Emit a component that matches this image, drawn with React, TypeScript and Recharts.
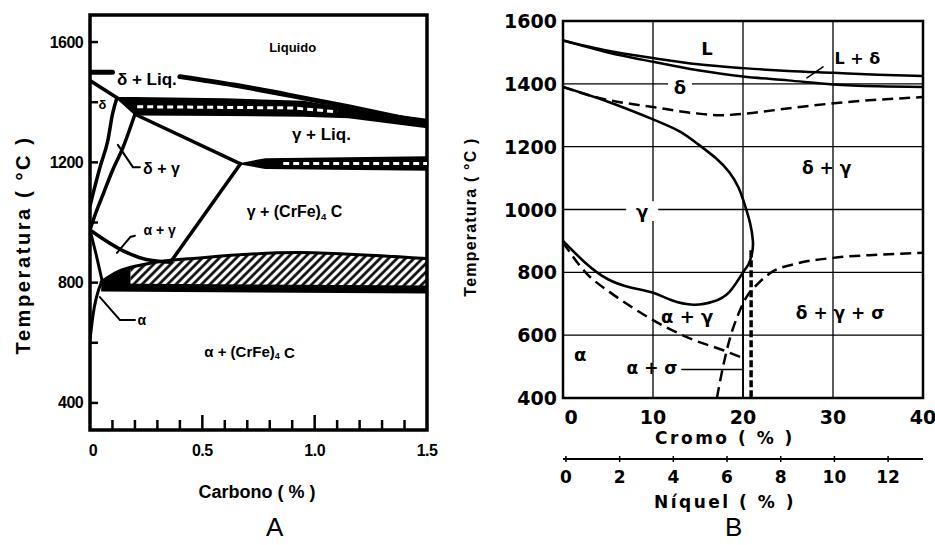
import React from 'react'
import { ComposedChart, Line, Area, XAxis, YAxis, CartesianGrid, ReferenceArea, ReferenceDot } from 'recharts'

// ---------- A: Fe-Cr-C, temperatura x carbono ----------
const carbonTicks = [0, 0.1, 0.2, 0.3, 0.4, 0.5, 0.6, 0.7, 0.8, 0.9, 1.0, 1.1, 1.2, 1.3, 1.4, 1.5]
const carbonLabels = [0, 0.5, 1.0, 1.5]
const tempTicksA = [400, 600, 800, 1000, 1200, 1400, 1600]
const tempLabelsA = [400, 800, 1200, 1600]

const liquidusA1 = [{ x: 0, y: 1500 }, { x: 0.1, y: 1500 }]
const liquidusA2 = [{ x: 0.4, y: 1485 }, { x: 0.64, y: 1457 }, { x: 0.93, y: 1417 }, { x: 1.15, y: 1385 }, { x: 1.5, y: 1330 }]
const deltaA = [{ x: 0, y: 1472 }, { x: 0.12, y: 1415 }]
const band1A = [
  { x: 0.12, r: [1410, 1417] }, { x: 0.2, r: [1356, 1417] }, { x: 0.6, r: [1354, 1413] },
  { x: 0.95, r: [1352, 1405] }, { x: 1.15, r: [1347, 1380] }, { x: 1.5, r: [1313, 1345] },
]
const band1DashA = [{ x: 0.21, y: 1385 }, { x: 0.9, y: 1381 }, { x: 1.1, y: 1368 }]
const solidusA = [{ x: 0.2, y: 1360 }, { x: 0.67, y: 1195 }]
const band2A = [{ x: 0.67, r: [1193, 1198] }, { x: 0.78, r: [1178, 1214] }, { x: 1.5, r: [1172, 1220] }]
const band2DashA = [{ x: 0.86, y: 1196 }, { x: 1.5, y: 1196 }]
const acmA = [{ x: 0.36, y: 870 }, { x: 0.67, y: 1195 }]
const dgLeftA = [{ x: 0, y: 1055 }, { x: 0.015, y: 1100 }, { x: 0.045, y: 1185 }, { x: 0.08, y: 1275 }, { x: 0.1, y: 1360 }, { x: 0.12, y: 1415 }]
const dgRightA = [{ x: 0, y: 975 }, { x: 0.02, y: 1020 }, { x: 0.06, y: 1097 }, { x: 0.1, y: 1173 }, { x: 0.147, y: 1250 }, { x: 0.2, y: 1360 }]
const agTopA = [{ x: 0, y: 975 }, { x: 0.15, y: 905 }, { x: 0.25, y: 877 }, { x: 0.36, y: 868 }]
const agLowA = [{ x: 0, y: 975 }, { x: 0.03, y: 885 }, { x: 0.055, y: 803 }]
const alphaSolvusA = [{ x: 0, y: 610 }, { x: 0.013, y: 690 }, { x: 0.05, y: 800 }]
const hatchA = [
  { x: 0.18, r: [776, 850] }, { x: 0.25, r: [775, 862] }, { x: 0.36, r: [775, 869] }, { x: 0.5, r: [775, 883] },
  { x: 0.7, r: [775, 895] }, { x: 0.93, r: [775, 900] }, { x: 1.2, r: [775, 893] }, { x: 1.5, r: [775, 880] },
]
const wedgeA = [{ x: 0.05, r: [797, 803] }, { x: 0.12, r: [781, 835] }, { x: 0.18, r: [776, 851] }]
const hatchTopA = [{ x: 0.05, y: 803 }, { x: 0.12, y: 835 }, { x: 0.25, y: 862 }, { x: 0.5, y: 883 }, { x: 0.93, y: 900 }, { x: 1.2, y: 893 }, { x: 1.5, y: 880 }]
const hatchBaseA = [{ x: 0.05, y: 784 }, { x: 1.5, y: 777 }]
const leaderDgA = [{ x: 0.124, y: 1258 }, { x: 0.191, y: 1184 }, { x: 0.222, y: 1184 }]
const leaderAgA = [{ x: 0.12, y: 899 }, { x: 0.18, y: 952 }, { x: 0.2, y: 956 }]
const leaderAlphaA = [{ x: 0.044, y: 752 }, { x: 0.133, y: 676 }, { x: 0.2, y: 676 }]

// ---------- B: Fe-Cr-Ni, temperatura x cromo ----------
const cromoTicks = [0, 10, 20, 30, 40]
const niquelTicks = [0, 2, 4, 6, 8, 10, 12]
const tempTicksB = [400, 600, 800, 1000, 1200, 1400, 1600]

const liquidusB = [{ x: 0, y: 1538 }, { x: 5, y: 1505 }, { x: 10, y: 1482 }, { x: 15, y: 1462 }, { x: 20, y: 1450 }, { x: 25, y: 1441 }, { x: 30, y: 1435 }, { x: 35, y: 1429 }, { x: 40, y: 1425 }]
const solidusB = [{ x: 0, y: 1538 }, { x: 5, y: 1500 }, { x: 10, y: 1470 }, { x: 15, y: 1443 }, { x: 20, y: 1423 }, { x: 25, y: 1411 }, { x: 30, y: 1398 }, { x: 35, y: 1392 }, { x: 40, y: 1390 }]
const deltaDashB = [{ x: 0, y: 1390 }, { x: 4, y: 1355 }, { x: 10, y: 1326 }, { x: 14.5, y: 1307 }, { x: 17.4, y: 1300 }, { x: 20.2, y: 1305 }, { x: 25.6, y: 1324 }, { x: 30.4, y: 1339 }, { x: 40, y: 1358 }]
const gammaLoopB = [
  { x: 0, y: 1390 }, { x: 5, y: 1343 }, { x: 10, y: 1287 }, { x: 13, y: 1248 }, { x: 15, y: 1208 }, { x: 17, y: 1163 },
  { x: 18.5, y: 1118 }, { x: 19.5, y: 1070 }, { x: 20.2, y: 1015 }, { x: 20.8, y: 955 }, { x: 21.1, y: 900 }, { x: 21, y: 860 },
  { x: 20.6, y: 825 }, { x: 20, y: 800 }, { x: 18.5, y: 738 }, { x: 16.7, y: 707 }, { x: 14.5, y: 697 }, { x: 12, y: 712 },
  { x: 10, y: 735 }, { x: 7.5, y: 752 }, { x: 5, y: 778 }, { x: 2.5, y: 830 }, { x: 0, y: 900 },
]
const alphaDashB = [{ x: 0, y: 895 }, { x: 2.6, y: 797 }, { x: 5.2, y: 737 }, { x: 7.5, y: 692 }, { x: 10, y: 648 }, { x: 14.5, y: 585 }, { x: 17.8, y: 552 }, { x: 20, y: 527 }]
const sigmaDashB = [{ x: 17.1, y: 400 }, { x: 17.8, y: 502 }, { x: 18.5, y: 585 }, { x: 19.5, y: 668 }, { x: 20.4, y: 722 }, { x: 21.7, y: 765 }, { x: 23, y: 797 }, { x: 26, y: 828 }, { x: 30, y: 846 }, { x: 35, y: 856 }, { x: 40, y: 862 }]
const vertSolidB = [{ x: 20, y: 800 }, { x: 20, y: 400 }]
const vertDashB = [{ x: 20.9, y: 870 }, { x: 20.9, y: 400 }]
const leaderLdB = [{ x: 27.1, y: 1419 }, { x: 28.9, y: 1454 }]
const leaderAsB = [{ x: 13.2, y: 491 }, { x: 20, y: 491 }]

const FONT_A = "'Liberation Sans', Arial, sans-serif"
const FONT_B = "'DejaVu Sans', sans-serif"

const seg = (key: string, data: any[], w: number, extra: any = {}) => (
  <Line
    key={key}
    data={data}
    dataKey="y"
    type={extra.type ?? 'monotone'}
    stroke={extra.stroke ?? '#000'}
    strokeWidth={w}
    strokeDasharray={extra.dash}
    strokeLinecap={extra.cap ?? 'round'}
    dot={false}
    activeDot={false}
    legendType="none"
    isAnimationActive={false}
  />
)

const band = (key: string, data: any[], fill: string) => (
  <Area key={key} data={data} dataKey="r" type="linear" fill={fill} fillOpacity={1} stroke="none" dot={false} activeDot={false} legendType="none" isAnimationActive={false} />
)

const tag = (key: string, x: number, y: number, body: React.ReactNode, size: number, font: string, mask = 0) => (
  <ReferenceDot
    key={key}
    x={x}
    y={y}
    r={0}
    ifOverflow="visible"
    shape={(p: any) => (
      <g>
        {mask > 0 && <rect x={p.cx - mask / 2} y={p.cy - size * 0.55} width={mask} height={size * 1.1} fill="#fff" />}
        <text x={p.cx} y={p.cy} textAnchor="middle" dominantBaseline="central" fontSize={size} fontWeight="bold" fontFamily={font} fill="#000">
          {body}
        </text>
      </g>
    )}
  />
)

const carbide = (size: number) => (
  <>
    {'+ (CrFe)'}
    <tspan fontSize={size * 0.6} dy={size * 0.3}>4</tspan>
    <tspan dy={-size * 0.3}>{' C'}</tspan>
  </>
)

const TickLeftA = (p: any) => {
  const v = p.payload.value
  return (
    <g>
      <line x1={p.x} y1={p.y} x2={p.x + 8} y2={p.y} stroke="#000" strokeWidth={2.5} />
      {tempLabelsA.includes(v) && (
        <text x={p.x - 7} y={p.y} textAnchor="end" dominantBaseline="central" fontSize={16} fontWeight="bold" fontFamily={FONT_A} letterSpacing={-0.6}>{v}</text>
      )}
    </g>
  )
}

const TickBottomA = (p: any) => {
  const v = p.payload.value
  const major = carbonLabels.some(c => Math.abs(c - v) < 1e-6)
  const len = Math.abs(v - 0.5) < 1e-6 || Math.abs(v - 1) < 1e-6 ? 15 : 10
  return (
    <g>
      {v > 0.01 && v < 1.49 && <line x1={p.x} y1={p.y} x2={p.x} y2={p.y - len} stroke="#000" strokeWidth={2.5} />}
      {major && (
        <text x={p.x + (v === 0 ? 3 : 0)} y={p.y + 20} textAnchor="middle" dominantBaseline="central" fontSize={16} fontWeight="bold" fontFamily={FONT_A} letterSpacing={-0.5}>
          {v === 0 ? '0' : v.toFixed(1)}
        </text>
      )}
    </g>
  )
}

function ChartA() {
  return (
    <ComposedChart width={440} height={545} margin={{ top: 15, right: 13, bottom: 0, left: 0 }}>
      <defs>
        <pattern id="hatchA" patternUnits="userSpaceOnUse" width={6} height={6} patternTransform="rotate(45)">
          <rect width={6} height={6} fill="#fff" />
          <line x1={1.5} y1={0} x2={1.5} y2={6} stroke="#000" strokeWidth={2.6} />
        </pattern>
      </defs>
      <XAxis
        dataKey="x" type="number" domain={[0, 1.5]} ticks={carbonTicks} interval={0} allowDataOverflow height={115}
        axisLine={false} tickLine={false} tickSize={0} tickMargin={0} tick={<TickBottomA />}
        label={() => (
          <text x={257} y={492} textAnchor="middle" dominantBaseline="central" fontSize={18} fontWeight="bold" fontFamily={FONT_A}>Carbono ( % )</text>
        )}
      />
      <YAxis
        type="number" domain={[310, 1690]} ticks={tempTicksA} interval={0} allowDataOverflow width={90}
        axisLine={false} tickLine={false} tickSize={0} tickMargin={0} tick={<TickLeftA />}
        label={() => (
          <text x={23} y={245} transform="rotate(-90, 23, 245)" textAnchor="middle" dominantBaseline="central" fontSize={20} fontWeight="bold" fontFamily={FONT_A} letterSpacing={2.6}>Temperatura ( °C )</text>
        )}
      />
      {band('b1', band1A, '#000')}
      {band('b2', band2A, '#000')}
      {band('hatch', hatchA, 'url(#hatchA)')}
      {band('wedge', wedgeA, '#000')}
      {seg('b1d', band1DashA, 3, { stroke: '#fff', dash: '6 4', type: 'linear', cap: 'butt' })}
      {seg('b2d', band2DashA, 3, { stroke: '#fff', dash: '6 4', type: 'linear', cap: 'butt' })}
      {seg('liq1', liquidusA1, 5, { type: 'linear' })}
      {seg('liq2', liquidusA2, 5)}
      {seg('delta', deltaA, 3.5, { type: 'linear' })}
      {seg('sol', solidusA, 3.5, { type: 'linear' })}
      {seg('acm', acmA, 3.5, { type: 'linear' })}
      {seg('dgl', dgLeftA, 3.5)}
      {seg('dgr', dgRightA, 3.5)}
      {seg('agt', agTopA, 3.5)}
      {seg('agl', agLowA, 3)}
      {seg('asol', alphaSolvusA, 3)}
      {seg('htop', hatchTopA, 3)}
      {seg('hbase', hatchBaseA, 8, { type: 'linear', cap: 'butt' })}
      {seg('ldg', leaderDgA, 2, { type: 'linear' })}
      {seg('lag', leaderAgA, 2, { type: 'linear' })}
      {seg('lal', leaderAlphaA, 2, { type: 'linear' })}
      <ReferenceArea x1={0} x2={1.5} y1={310} y2={1690} fill="none" stroke="#000" strokeWidth={3.5} ifOverflow="visible" />
      {tag('t1', 0.902, 1583, 'Liquido', 13, FONT_A)}
      {tag('t2', 0.253, 1474, 'δ + Liq.', 17, FONT_A)}
      {tag('t3', 0.055, 1394, 'δ', 13, FONT_A)}
      {tag('t4', 1.03, 1291, 'γ + Liq.', 17, FONT_A)}
      {tag('t5', 0.318, 1181, 'δ + γ', 16, FONT_A)}
      {tag('t6', 0.91, 1038, <>{'γ '}{carbide(16)}</>, 16, FONT_A)}
      {tag('t7', 0.31, 975, 'α + γ', 14, FONT_A)}
      {tag('t8', 0.231, 676, 'α', 14, FONT_A)}
      {tag('t9', 0.71, 570, <>{'α '}{carbide(15)}</>, 15, FONT_A)}
    </ComposedChart>
  )
}

const TickLeftB = (p: any) => (
  <text x={p.x - 6} y={p.y} textAnchor="end" dominantBaseline="central" fontSize={19} fontWeight="bold" fontFamily={FONT_B}>{p.payload.value}</text>
)

const TickCromo = (p: any) => (
  <text x={p.x + (p.payload.value === 0 ? 8 : 0)} y={p.y + 19} textAnchor="middle" dominantBaseline="central" fontSize={19} fontWeight="bold" fontFamily={FONT_B}>{p.payload.value}</text>
)

const TickNiquel = (p: any) => (
  <g>
    <line x1={p.x} y1={p.y - 3} x2={p.x} y2={p.y + 3} stroke="#000" strokeWidth={1.5} />
    <text x={p.x} y={p.y + 18} textAnchor="middle" dominantBaseline="central" fontSize={17} fontWeight="bold" fontFamily={FONT_B}>{p.payload.value}</text>
  </g>
)

function ChartB() {
  return (
    <ComposedChart width={475} height={545} margin={{ top: 21, right: 12, bottom: 0, left: 0 }}>
      <CartesianGrid stroke="#000" strokeWidth={1.3} />
      <XAxis
        dataKey="x" type="number" domain={[0, 40]} ticks={cromoTicks} interval={0} allowDataOverflow height={61}
        axisLine={false} tickLine={false} tickSize={0} tickMargin={0} tick={<TickCromo />}
        label={() => (
          <text x={265} y={438} textAnchor="middle" dominantBaseline="central" fontSize={17} fontWeight="bold" fontFamily={FONT_B} letterSpacing={2.5}>Cromo ( % )</text>
        )}
      />
      <XAxis
        xAxisId="ni" dataKey="x" type="number" domain={[-0.11, 13.3]} ticks={niquelTicks} interval={0} allowDataOverflow height={86}
        axisLine={{ stroke: '#000', strokeWidth: 2 }} tickLine={false} tickSize={0} tickMargin={0} tick={<TickNiquel />}
        label={() => (
          <text x={265} y={502} textAnchor="middle" dominantBaseline="central" fontSize={17} fontWeight="bold" fontFamily={FONT_B} letterSpacing={2.5}>Níquel ( % )</text>
        )}
      />
      <YAxis
        type="number" domain={[400, 1600]} ticks={tempTicksB} interval={0} allowDataOverflow width={103}
        axisLine={false} tickLine={false} tickSize={0} tickMargin={0} tick={<TickLeftB />}
        label={() => (
          <text x={10} y={217} transform="rotate(-90, 10, 217)" textAnchor="middle" dominantBaseline="central" fontSize={16} fontWeight="bold" fontFamily={FONT_A} letterSpacing={1.2}>Temperatura ( °C )</text>
        )}
      />
      {seg('liq', liquidusB, 2.5)}
      {seg('sol', solidusB, 2.5)}
      {seg('dd', deltaDashB, 2.5, { dash: '11 6', cap: 'butt' })}
      {seg('loop', gammaLoopB, 2.6, { type: 'natural' })}
      {seg('ad', alphaDashB, 2.5, { dash: '11 6', cap: 'butt' })}
      {seg('sd', sigmaDashB, 2.5, { dash: '11 6', cap: 'butt' })}
      {seg('vs', vertSolidB, 1.8, { type: 'linear' })}
      {seg('vd', vertDashB, 3.5, { type: 'linear', dash: '7 3', cap: 'butt' })}
      {seg('lld', leaderLdB, 1.5, { type: 'linear' })}
      {seg('las', leaderAsB, 1.5, { type: 'linear' })}
      <ReferenceArea x1={0} x2={40} y1={400} y2={1600} fill="none" stroke="#000" strokeWidth={2.5} ifOverflow="visible" />
      {tag('L', 16, 1514, 'L', 18, FONT_B)}
      {tag('Ld', 32.7, 1482, 'L + δ', 16, FONT_B)}
      {tag('d', 13, 1387, 'δ', 18, FONT_B, 24)}
      {tag('dg', 29.3, 1132, 'δ + γ', 17, FONT_B)}
      {tag('g', 8.8, 995, 'γ', 18, FONT_B, 32)}
      {tag('ag', 13.8, 658, 'α + γ', 18, FONT_B)}
      {tag('dgs', 30.8, 671, 'δ + γ + σ', 17, FONT_B)}
      {tag('a', 1.9, 537, 'α', 18, FONT_B)}
      {tag('as', 9.9, 495, 'α + σ', 17, FONT_B)}
    </ComposedChart>
  )
}

export default function App() {
  return (
    <div style={{ position: 'absolute', left: 0, top: 0, width: 935, height: 545, background: '#fff', overflow: 'hidden' }}>
      <div style={{ position: 'absolute', left: 0, top: 0 }}>
        <ChartA />
      </div>
      <div style={{ position: 'absolute', left: 460, top: 0 }}>
        <ChartB />
      </div>
      <div style={{ position: 'absolute', left: 266, top: 513, fontSize: 26, lineHeight: '28px', fontFamily: FONT_A }}>A</div>
      <div style={{ position: 'absolute', left: 725, top: 513, fontSize: 26, lineHeight: '28px', fontFamily: FONT_A }}>B</div>
    </div>
  )
}
